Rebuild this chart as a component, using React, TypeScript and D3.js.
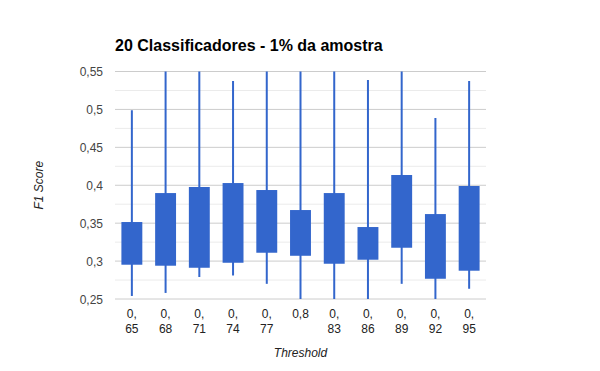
import React from "react";
import * as d3 from "d3";

// thresholds (x axis), wrapped like the original
const thresholds = ["0,65", "0,68", "0,71", "0,74", "0,77", "0,8", "0,83", "0,86", "0,89", "0,92", "0,95"];
const lows = [0.254, 0.258, 0.279, 0.281, 0.27, 0.24, 0.24, 0.24, 0.27, 0.24, 0.2635];
const opens = [0.2952, 0.2939, 0.2912, 0.2978, 0.311, 0.307, 0.2965, 0.3018, 0.3176, 0.2767, 0.2873];
const closes = [0.3515, 0.3897, 0.3977, 0.4029, 0.3937, 0.3673, 0.3897, 0.3449, 0.4135, 0.362, 0.399];
const highs = [0.499, 0.56, 0.56, 0.5375, 0.56, 0.56, 0.56, 0.5388, 0.56, 0.4887, 0.5375];
const yTicks = [0.25, 0.3, 0.35, 0.4, 0.45, 0.5, 0.55];

const W = 600;
const H = 371;
const left = 115;
const right = 486;
const top = 71.5;
const bottom = 299;
const font = "Arial, 'Liberation Sans', sans-serif";

const fmt = (v: number) => String(+v.toFixed(2)).replace(".", ",");

// google charts style label wrap: "0,65" -> "0," / "65"
function wrapLabel(s: string): string[] {
  if (s.length <= 3) return [s];
  const i = s.indexOf(",");
  return [s.slice(0, i + 1), s.slice(i + 1)];
}

export default function App() {
  const x = d3.scaleBand<string>().domain(thresholds).range([left, right]);
  const y = d3.scaleLinear().domain([0.25, 0.55]).range([bottom, top]);
  const boxW = x.bandwidth() * 0.62;

  const minorTicks = d3.range(0, yTicks.length - 1).map((i) => (yTicks[i] + yTicks[i + 1]) / 2);

  return (
    <svg width={W} height={H} style={{ position: "absolute", left: 0, top: 0 }}>
      <rect x={0} y={0} width={W} height={H} fill="#fff" />
      <defs>
        <clipPath id="plot">
          <rect x={left} y={top} width={right - left} height={bottom - top} />
        </clipPath>
      </defs>
      <text x={left} y={50.5} fontFamily={font} fontSize={16} fontWeight="bold" fill="#000">
        20 Classificadores - 1% da amostra
      </text>

      {minorTicks.map((t) => (
        <line key={"m" + t} x1={left} x2={right} y1={y(t)} y2={y(t)} stroke="#ebebeb" strokeWidth={1} />
      ))}
      {yTicks.map((t) => (
        <g key={t}>
          <line x1={left} x2={right} y1={y(t)} y2={y(t)} stroke="#cccccc" strokeWidth={1} />
          <text x={103} y={y(t) + 4.5} textAnchor="end" fontFamily={font} fontSize={12} fill="#444">
            {fmt(t)}
          </text>
        </g>
      ))}

      <g clipPath="url(#plot)">
        {thresholds.map((c, i) => {
          const cx = (x(c) as number) + x.bandwidth() / 2;
          return (
            <g key={c}>
              <line x1={cx} x2={cx} y1={y(highs[i])} y2={y(lows[i])} stroke="#3366cc" strokeWidth={2} />
              <rect
                x={cx - boxW / 2}
                y={y(closes[i])}
                width={boxW}
                height={y(opens[i]) - y(closes[i])}
                fill="#3366cc"
              />
            </g>
          );
        })}
      </g>

      {thresholds.map((c) => {
        const cx = (x(c) as number) + x.bandwidth() / 2;
        return (
          <text key={"l" + c} textAnchor="middle" fontFamily={font} fontSize={12} fill="#222">
            {wrapLabel(c).map((ln, j) => (
              <tspan key={j} x={cx} y={318 + j * 15}>
                {ln}
              </tspan>
            ))}
          </text>
        );
      })}

      <text x={(left + right) / 2} y={357} textAnchor="middle" fontFamily={font} fontSize={12} fontStyle="italic" fill="#222">
        Threshold
      </text>
      <text
        transform={`translate(43, ${(top + bottom) / 2}) rotate(-90)`}
        textAnchor="middle"
        fontFamily={font}
        fontSize={12}
        fontStyle="italic"
        fill="#222"
      >
        F1 Score
      </text>
    </svg>
  );
}
